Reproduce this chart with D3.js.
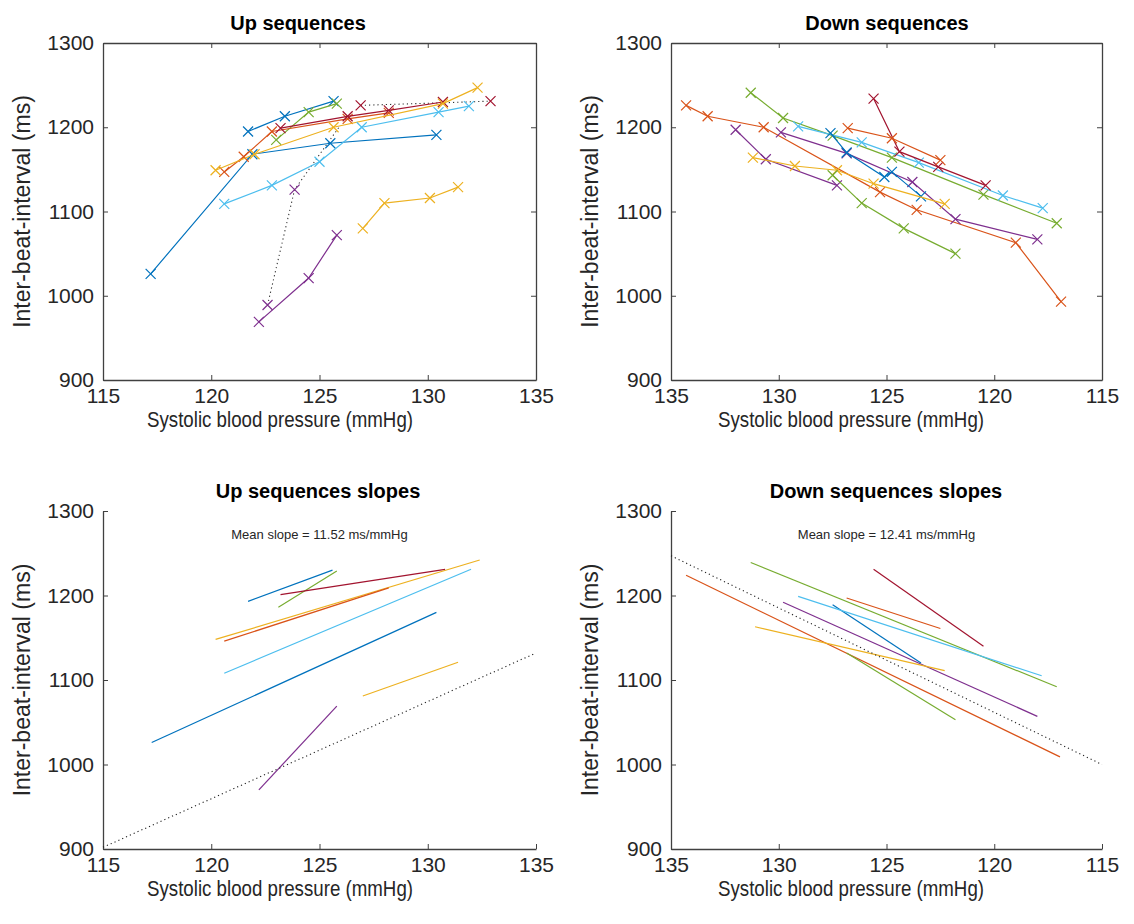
<!DOCTYPE html>
<html>
<head>
<meta charset="utf-8">
<script src="https://cdn.jsdelivr.net/npm/d3@7"></script>
<style>
  body { margin: 0; background: #fff; }
  svg text { font-family: "Liberation Sans", Arial, sans-serif; }
</style>
</head>
<body>
<div id="fig"></div>
<script>
// ---- data ----
const xTicks = [115, 120, 125, 130, 135];
const yTicks = [900, 1000, 1100, 1200, 1300];

// up sequences: [SBP mmHg, IBI ms]
const upBlue1   = [[117.2, 1026], [121.9, 1168], [125.5, 1181], [130.4, 1191]];
const upBlue2   = [[121.7, 1195], [123.4, 1213], [125.65, 1231]];
const upGreen   = [[123.0, 1185], [124.5, 1218], [125.8, 1228]];
const upOrange  = [[120.6, 1147], [121.5, 1165], [122.8, 1195], [126.3, 1210], [128.2, 1217]];
const upRed     = [[123.2, 1199], [126.3, 1213], [128.2, 1220], [130.7, 1230]];
const upYellow1 = [[120.2, 1149], [122.0, 1168], [125.65, 1200], [130.7, 1228], [132.3, 1247]];
const upCyan    = [[120.6, 1109], [122.8, 1131], [125.0, 1159], [126.95, 1200], [130.5, 1218], [131.9, 1225]];
const upYellow2 = [[127.0, 1080], [128.0, 1110], [130.1, 1116], [131.4, 1129]];
const upPurple  = [[122.2, 969], [124.5, 1021], [125.8, 1072]];
// rejected sequences (dotted)
const upDot1 = [[122.6, 989], [123.85, 1126], [125.9, 1200]];
const upDot1Marks = [[122.6, 989], [123.85, 1126]];
const upDot2 = [[126.9, 1226], [130.7, 1229], [132.9, 1231]];
const upDot2Marks = [[126.9, 1226], [132.9, 1231]];

// down sequences
const dnOrange1 = [[134.3, 1226], [133.3, 1213], [130.7, 1200], [125.3, 1123], [123.6, 1102], [119.0, 1063], [116.9, 993]];
const dnGreen1  = [[131.3, 1241], [129.8, 1211], [127.5, 1190], [124.75, 1164], [120.5, 1120], [117.1, 1086]];
const dnCyan    = [[129.1, 1201], [126.15, 1182], [123.5, 1158], [119.6, 1119], [117.75, 1104]];
const dnPurple1 = [[129.9, 1194], [126.85, 1169], [123.8, 1135], [121.8, 1091], [118.0, 1067]];
const dnPurple2 = [[132.0, 1197], [130.6, 1162], [127.3, 1131]];
const dnBlue    = [[127.6, 1193], [126.85, 1170], [125.1, 1141], [124.75, 1147], [123.4, 1118]];
const dnRed     = [[125.6, 1234], [124.4, 1171], [122.6, 1153], [120.4, 1131]];
const dnOrange2 = [[126.8, 1199], [124.75, 1187], [122.5, 1161]];
const dnYellow  = [[131.2, 1164], [129.25, 1154], [127.3, 1149], [125.6, 1133], [122.3, 1109]];
const dnGreen2  = [[127.5, 1143], [126.15, 1110], [124.2, 1080], [121.8, 1050]];

// regression lines, endpoints
const upSlopeBlue1   = [[117.25, 1026], [130.4, 1180]];
const upSlopeBlue2   = [[121.7, 1193], [125.6, 1230]];
const upSlopeGreen   = [[123.1, 1186], [125.8, 1229]];
const upSlopeRed     = [[123.2, 1201], [130.8, 1231]];
const upSlopeYellow1 = [[120.2, 1148], [132.4, 1242]];
const upSlopeOrange  = [[120.6, 1146], [128.2, 1209]];
const upSlopeCyan    = [[120.6, 1108], [132.0, 1231]];
const upSlopeYellow2 = [[127.0, 1081], [131.4, 1121]];
const upSlopePurple  = [[122.2, 970], [125.8, 1069]];
const upMeanLine     = [[115, 902], [135, 1132]];
const upMeanSlope = 11.52;

const dnSlopeGreen1  = [[131.3, 1239], [117.1, 1092]];
const dnSlopeOrange1 = [[134.3, 1224], [116.95, 1009]];
const dnSlopeRed     = [[125.6, 1231], [120.5, 1140]];
const dnSlopeOrange2 = [[126.85, 1197], [122.5, 1161]];
const dnSlopePurple1 = [[129.8, 1192], [118.0, 1057]];
const dnSlopeBlue    = [[127.5, 1189], [123.4, 1120]];
const dnSlopeCyan    = [[129.1, 1199], [117.8, 1105]];
const dnSlopeYellow  = [[131.1, 1163], [122.3, 1111]];
const dnSlopeGreen2  = [[126.85, 1132], [121.8, 1053]];
const dnMeanLine     = [[135, 1247], [115, 1000]];
const dnMeanSlope = 12.41;

// MATLAB default colour order
const col = {
  blue: "#0072BD", orange: "#D95319", yellow: "#EDB120", purple: "#7E2F8E",
  green: "#77AC30", cyan: "#4DBEEE", red: "#A2142F"
};

const upSeries = [
  [upBlue1, "blue"], [upBlue2, "blue"], [upGreen, "green"], [upOrange, "orange"],
  [upRed, "red"], [upYellow1, "yellow"], [upCyan, "cyan"], [upYellow2, "yellow"], [upPurple, "purple"]
];
const dnSeries = [
  [dnOrange1, "orange"], [dnGreen1, "green"], [dnCyan, "cyan"], [dnPurple1, "purple"],
  [dnPurple2, "purple"], [dnBlue, "blue"], [dnRed, "red"], [dnOrange2, "orange"],
  [dnYellow, "yellow"], [dnGreen2, "green"]
];
const upSlopes = [
  [upSlopeBlue1, "blue"], [upSlopeBlue2, "blue"], [upSlopeGreen, "green"], [upSlopeRed, "red"],
  [upSlopeYellow1, "yellow"], [upSlopeOrange, "orange"], [upSlopeCyan, "cyan"],
  [upSlopeYellow2, "yellow"], [upSlopePurple, "purple"]
];
const dnSlopes = [
  [dnSlopeGreen1, "green"], [dnSlopeOrange1, "orange"], [dnSlopeRed, "red"], [dnSlopeOrange2, "orange"],
  [dnSlopePurple1, "purple"], [dnSlopeBlue, "blue"], [dnSlopeCyan, "cyan"], [dnSlopeYellow, "yellow"],
  [dnSlopeGreen2, "green"]
];

// ---- layout ----
const W = 1134, H = 924;
const svg = d3.select("#fig").append("svg").attr("width", W).attr("height", H);

const panels = [
  { x0: 103, x1: 536, y0: 43, y1: 380, xdom: [115, 135], box: true,
    title: "Up sequences", titleX: 298, xlabX: 280 },
  { x0: 671, x1: 1102, y0: 43, y1: 380, xdom: [135, 115], box: true,
    title: "Down sequences", titleX: 887, xlabX: 851 },
  { x0: 103, x1: 536, y0: 511, y1: 849, xdom: [115, 135], box: false,
    title: "Up sequences slopes", titleX: 318, xlabX: 280 },
  { x0: 671, x1: 1102, y0: 511, y1: 849, xdom: [135, 115], box: false,
    title: "Down sequences slopes", titleX: 886, xlabX: 851 }
];

const line = d3.line();

function setup(p) {
  const x = d3.scaleLinear().domain(p.xdom).range([p.x0, p.x1]);
  const y = d3.scaleLinear().domain([900, 1300]).range([p.y1, p.y0]);
  const g = svg.append("g");

  const axColor = "#404040";
  const gx = g.append("g").attr("transform", `translate(0,${p.y1})`)
    .call(d3.axisBottom(x).tickValues(xTicks).tickFormat(d3.format("d"))
      .tickSizeInner(-5).tickSizeOuter(0).tickPadding(8));
  const gy = g.append("g").attr("transform", `translate(${p.x0},0)`)
    .call(d3.axisLeft(y).tickValues(yTicks).tickFormat(d3.format("d"))
      .tickSizeInner(-5).tickSizeOuter(0).tickPadding(9));
  [gx, gy].forEach(a => {
    a.selectAll("path.domain").attr("stroke", axColor).attr("stroke-width", 1.3);
    a.selectAll(".tick line").attr("stroke", axColor).attr("stroke-width", 1);
    a.selectAll(".tick text").attr("fill", "#262626").style("font-size", "21px");
  });
  if (p.box) {
    const gt = g.append("g").attr("transform", `translate(0,${p.y0})`)
      .call(d3.axisTop(x).tickValues(xTicks).tickSizeInner(-5).tickSizeOuter(0).tickFormat(""));
    const gr = g.append("g").attr("transform", `translate(${p.x1},0)`)
      .call(d3.axisRight(y).tickValues(yTicks).tickSizeInner(-5).tickSizeOuter(0).tickFormat(""));
    [gt, gr].forEach(a => {
      a.selectAll("path.domain").attr("stroke", axColor).attr("stroke-width", 1.3);
      a.selectAll(".tick line").attr("stroke", axColor).attr("stroke-width", 1);
    });
  }

  g.append("text").attr("x", p.titleX).attr("y", p.y0 - 13)
    .attr("text-anchor", "middle").style("font-size", "20px").style("font-weight", "bold")
    .attr("fill", "#000").text(p.title);
  g.append("text").attr("x", p.xlabX).attr("y", p.y1 + 47)
    .attr("text-anchor", "middle").style("font-size", "22px").attr("fill", "#262626")
    .attr("textLength", 266).attr("lengthAdjust", "spacingAndGlyphs")
    .text("Systolic blood pressure (mmHg)");
  g.append("text")
    .attr("transform", `translate(${p.x0 - 73},${(p.y0 + p.y1) / 2}) rotate(-90)`)
    .attr("text-anchor", "middle").style("font-size", "23px").attr("fill", "#262626")
    .text("Inter-beat-interval (ms)");

  const plot = g.append("g");
  return { x, y, plot };
}

function drawX(plot, x, y, pts, color) {
  const s = 5;
  plot.append("g").selectAll("path").data(pts).join("path")
    .attr("d", d => {
      const cx = x(d[0]), cy = y(d[1]);
      return `M${cx - s},${cy - s}L${cx + s},${cy + s}M${cx - s},${cy + s}L${cx + s},${cy - s}`;
    })
    .attr("stroke", color).attr("stroke-width", 1.2).attr("fill", "none");
}

function drawPath(plot, x, y, pts, color, width, dash) {
  plot.append("path")
    .attr("d", line(pts.map(d => [x(d[0]), y(d[1])])))
    .attr("fill", "none").attr("stroke", color).attr("stroke-width", width)
    .attr("stroke-dasharray", dash || null);
}

// top left: up sequences
{
  const { x, y, plot } = setup(panels[0]);
  drawPath(plot, x, y, upDot1, "#333", 1.1, "1.2,3");
  drawPath(plot, x, y, upDot2, "#333", 1.1, "1.2,3");
  upSeries.forEach(([pts, c]) => {
    drawPath(plot, x, y, pts, col[c], 1.2);
    drawX(plot, x, y, pts, col[c]);
  });
  drawX(plot, x, y, upDot1Marks, col.purple);
  drawX(plot, x, y, upDot2Marks, col.red);
}

// top right: down sequences
{
  const { x, y, plot } = setup(panels[1]);
  dnSeries.forEach(([pts, c]) => {
    drawPath(plot, x, y, pts, col[c], 1.2);
    drawX(plot, x, y, pts, col[c]);
  });
}

// bottom left: up slopes
{
  const p = panels[2];
  const { x, y, plot } = setup(p);
  upSlopes.forEach(([pts, c]) => drawPath(plot, x, y, pts, col[c], 1.2));
  drawPath(plot, x, y, upMeanLine, "#222", 1.1, "1.2,3");
  plot.append("text").attr("x", (p.x0 + p.x1) / 2).attr("y", p.y0 + 28)
    .attr("text-anchor", "middle").style("font-size", "13px").attr("fill", "#262626")
    .text(`Mean slope = ${upMeanSlope.toFixed(2)} ms/mmHg`);
}

// bottom right: down slopes
{
  const p = panels[3];
  const { x, y, plot } = setup(p);
  dnSlopes.forEach(([pts, c]) => drawPath(plot, x, y, pts, col[c], 1.2));
  drawPath(plot, x, y, dnMeanLine, "#222", 1.1, "1.2,3");
  plot.append("text").attr("x", (p.x0 + p.x1) / 2).attr("y", p.y0 + 28)
    .attr("text-anchor", "middle").style("font-size", "13px").attr("fill", "#262626")
    .text(`Mean slope = ${dnMeanSlope.toFixed(2)} ms/mmHg`);
}
</script>
</body>
</html>
